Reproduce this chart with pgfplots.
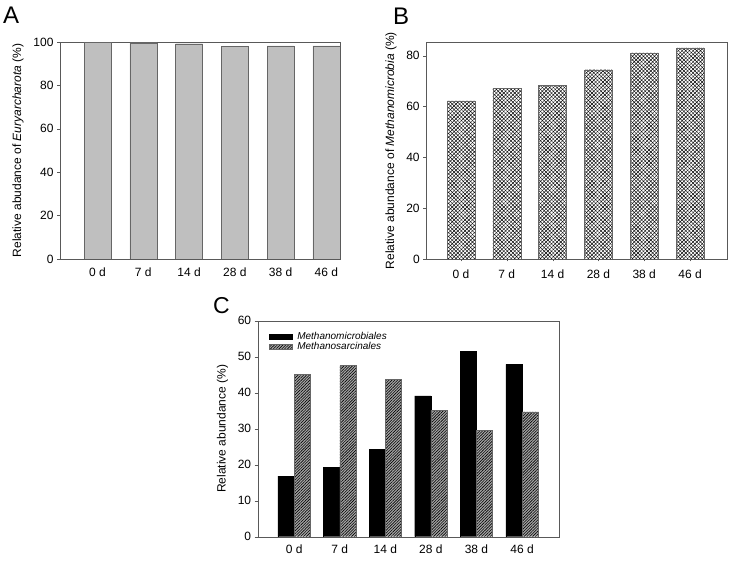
\documentclass[border=0pt]{standalone}
\usepackage{fontspec}
\setmainfont{Liberation Sans}
\usepackage{pgfplots}
\pgfplotsset{compat=1.18}
\usetikzlibrary{patterns.meta}

\pgfplotsset{
  panel/.style={
    scale only axis,
    anchor=south west,
    xtick={0,1,2,3,4,5},
    xticklabels={0 d,7 d,14 d,28 d,38 d,46 d},
    x tick style={draw=none},
    ytick pos=left,
    xtick pos=bottom,
    tick align=outside,
    major tick length=3pt,
    axis line style={black!65},
    ytick style={black!65},
    tick label style={font=\fontsize{12}{14}\selectfont},
    label style={font=\fontsize{12}{14}\selectfont},
    /pgf/number format/assume math mode=true,
    ymin=0,
  },
}

\begin{document}
\begin{tikzpicture}[x=1pt,y=1pt]
\path[use as bounding box] (0,0) rectangle (730,560);

% Panel A
\begin{axis}[panel,
  at={(60pt,301pt)}, width=280pt, height=217pt,
  xmin=-0.82, xmax=5.3, ymax=100,
  ytick={0,20,40,60,80,100},
  xticklabel style={yshift=-2pt},
  ylabel={Relative abudance of \textit{Euryarcharota} (\%)},
  ylabel style={at={(axis description cs:-0.15,0.5)}, anchor=center},
]
\addplot[ybar, bar width=0.59, fill=black!25, draw=black!60] coordinates {
  (0,99.8) (1,99.6) (2,99.2) (3,98.1) (4,98.2) (5,98.2)};
\end{axis}

% Panel B
\begin{axis}[panel,
  at={(425.7pt,301pt)}, width=301pt, height=216.7pt,
  xmin=-0.77, xmax=5.8, ymax=85.3,
  ytick={0,20,40,60,80},
  major tick length=2.5pt,
  x tick style={draw=black!65},
  xticklabel style={yshift=-5pt},
  ylabel={Relative abundance of \textit{Methanomicrobia} (\%)},
  ylabel style={at={(axis description cs:-0.115,0.5)}, anchor=center},
]
\addplot[ybar, bar width=0.61, fill=white, draw=black!60,
  postaction={pattern={Lines[angle=45,distance=2.6pt,line width=0.45pt]}},
  postaction={pattern={Lines[angle=-45,distance=2.6pt,line width=0.45pt]}}] coordinates {
  (0,62.2) (1,67.2) (2,68.4) (3,74.5) (4,81.1) (5,83.1)};
\end{axis}

% Panel C
\begin{axis}[panel,
  at={(257.7pt,23.3pt)}, width=301.3pt, height=216pt,
  xmin=-0.8, xmax=5.81, ymax=60,
  ytick={0,10,20,30,40,50,60},
  xticklabel style={yshift=-1.5pt},
  ylabel={Relative abundance (\%)},
  ylabel style={at={(axis description cs:-0.117,0.5)}, anchor=center},
  legend style={at={(axis description cs:0,1)}, anchor=north west,
    xshift=8pt, yshift=-7pt, draw=none, fill=none,
    font=\itshape\fontsize{10}{11}\selectfont, row sep=-2pt,
    /tikz/every odd column/.append style={column sep=3pt}},
  legend cell align=left,
  legend image code/.code={\draw[#1] (0pt,-2.5pt) rectangle (23pt,2.5pt);},
]
\addplot[ybar, bar width=0.355, bar shift=-0.1775, fill=black, draw=black] coordinates {
  (0,16.8) (1,19.35) (2,24.3) (3,39.1) (4,51.4) (5,47.9)};
\addlegendentry{Methanomicrobiales}
\addplot[ybar, bar width=0.355, bar shift=0.1775, fill=black!35, draw=black!60,
  postaction={pattern={Lines[angle=45,distance=2pt,line width=0.6pt]}}] coordinates {
  (0,45.1) (1,47.6) (2,43.8) (3,35.1) (4,29.5) (5,34.7)};
\addlegendentry{Methanosarcinales}
\end{axis}

\node[anchor=base west, inner sep=0pt, font=\fontsize{24}{28}\selectfont] at (3,536) {A};
\node[anchor=base west, inner sep=0pt, font=\fontsize{24}{28}\selectfont] at (393,535) {B};
\node[anchor=base west, inner sep=0pt, font=\fontsize{23}{28}\selectfont] at (213,247) {C};
\end{tikzpicture}
\end{document}
